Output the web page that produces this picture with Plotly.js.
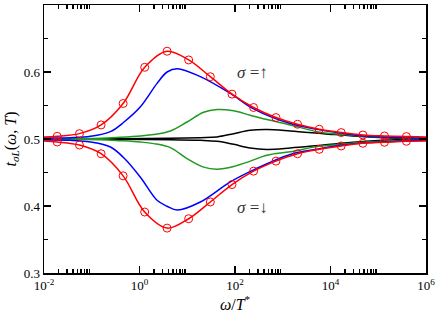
<!DOCTYPE html>
<html>
<head>
<meta charset="utf-8">
<script src="https://cdn.plot.ly/plotly-3.0.1.min.js"></script>
<style>html,body{margin:0;padding:0;background:#fff;}#chart{width:436px;height:315px;}</style>
</head>
<body>
<div id="chart"></div>
<script>
const redX = [0.0189, 0.0553, 0.157, 0.454, 1.285, 3.78, 10.7, 30.4, 86.5, 245, 721, 2042, 5808, 16750, 47640, 134900, 389000];
const redUp = [0.504, 0.508, 0.521, 0.553, 0.607, 0.631, 0.618, 0.593, 0.567, 0.547, 0.532, 0.522, 0.5145, 0.5096, 0.506, 0.5045, 0.5036];
const redDown = [0.4955, 0.491, 0.478, 0.445, 0.391, 0.367, 0.381, 0.406, 0.432, 0.452, 0.467, 0.478, 0.4846, 0.4896, 0.4936, 0.4951, 0.4966];
const redEndsX = [0.01, 1e6];
const redUpEnds = [0.503, 0.503];
const redDownEnds = [0.497, 0.497];

const blueX = [0.01, 0.0358, 0.094, 0.246, 0.468, 1.045, 2.33, 3.78, 6.21, 18.8, 79.8, 245, 1435, 5610, 15960, 48980, 396300, 1e6];
const blueUp = [0.5015, 0.502, 0.504, 0.511, 0.525, 0.548, 0.583, 0.600, 0.605, 0.593, 0.568, 0.545, 0.523, 0.514, 0.509, 0.5045, 0.502, 0.5015];
const blueDown = [0.4985, 0.498, 0.4955, 0.488, 0.472, 0.443, 0.4085, 0.3996, 0.394, 0.406, 0.436, 0.454, 0.477, 0.485, 0.4906, 0.494, 0.4975, 0.4985];

const greenX = [0.01, 0.152, 0.398, 1.045, 1.98, 4.43, 9.91, 22.0, 42.0, 93.5, 209, 467, 1435, 5610, 15960, 48980, 396300, 1e6];
const greenUp = [0.5005, 0.501, 0.5025, 0.5045, 0.5066, 0.512, 0.5254, 0.540, 0.544, 0.542, 0.5354, 0.529, 0.521, 0.5105, 0.507, 0.504, 0.5015, 0.501];
const greenDown = [0.4995, 0.499, 0.4975, 0.4955, 0.4931, 0.4871, 0.4707, 0.458, 0.455, 0.459, 0.467, 0.4757, 0.481, 0.489, 0.492, 0.495, 0.498, 0.4985];

const blackX = [0.01, 0.398, 4.43, 18.8, 42.0, 93.5, 209, 467, 1435, 7145, 35650, 177400, 1e6];
const blackUp = [0.5003, 0.5005, 0.501, 0.502, 0.503, 0.508, 0.513, 0.514, 0.512, 0.508, 0.504, 0.5015, 0.5005];
const blackDown = [0.4997, 0.4995, 0.499, 0.498, 0.4965, 0.492, 0.4865, 0.4845, 0.4865, 0.491, 0.4955, 0.4985, 0.4995];

const xTickVals = [0.01, 1, 100, 1e4, 1e6];
const xTickText = ['10<sup>-2</sup>', '10<sup>0</sup>', '10<sup>2</sup>', '10<sup>4</sup>', '10<sup>6</sup>'];
const xMinorVals = [0.02,0.03,0.04,0.05,0.06,0.07,0.08,0.09, 2,3,4,5,6,7,8,9, 200,300,400,500,600,700,800,900, 2e4,3e4,4e4,5e4,6e4,7e4,8e4,9e4];
const yTickVals = [0.3, 0.4, 0.5, 0.6, 0.7];
const yTickText = ['0.3', '0.4', '0.5', '0.6', '0.7'];
const yMinorVals = [0.35, 0.45, 0.55, 0.65];

const RED = '#ff0000', BLUE = '#0000ff', GREEN = '#1f9a1f', BLACK = '#000000';
const LW = 1.5;

function line(x, y, color) {
  return {x: x, y: y, type: 'scatter', mode: 'lines', line: {color: color, width: LW, shape: 'spline', smoothing: 1}, showlegend: false, hoverinfo: 'skip'};
}
const redLineX = [redEndsX[0]].concat(redX, [redEndsX[1]]);
const redLineUp = [redUpEnds[0]].concat(redUp, [redUpEnds[1]]);
const redLineDown = [redDownEnds[0]].concat(redDown, [redDownEnds[1]]);

const data = [
  line(blackX, blackUp, BLACK), line(blackX, blackDown, BLACK),
  line(greenX, greenUp, GREEN), line(greenX, greenDown, GREEN),
  line(blueX, blueUp, BLUE), line(blueX, blueDown, BLUE),
  line(redLineX, redLineUp, RED), line(redLineX, redLineDown, RED),
  {x: redX, y: redUp, type: 'scatter', mode: 'markers', marker: {symbol: 'circle-open', size: 8, color: RED, line: {width: 1, color: RED}}, showlegend: false},
  {x: redX, y: redDown, type: 'scatter', mode: 'markers', marker: {symbol: 'circle-open', size: 8, color: RED, line: {width: 1, color: RED}}, showlegend: false}
];

const FONT = 'Liberation Serif, Times New Roman, serif';
const layout = {
  width: 436, height: 315,
  margin: {l: 44, r: 10, t: 5, b: 42},
  paper_bgcolor: '#fff', plot_bgcolor: '#fff',
  font: {family: FONT, size: 12, color: '#000'},
  showlegend: false,
  xaxis: {
    type: 'log', range: [-2, 6], autorange: false,
    tickmode: 'array', tickvals: xTickVals, ticktext: xTickText,
    ticks: 'inside', ticklen: 7, tickwidth: 1.5, tickcolor: '#000',
    minor: {tickmode: 'array', tickvals: xMinorVals, ticks: 'inside', ticklen: 4, tickwidth: 1.5, tickcolor: '#000', showgrid: false},
    showline: true, linewidth: 1.5, linecolor: '#000', mirror: 'ticks',
    showgrid: false, zeroline: false,
    tickfont: {family: FONT, size: 13},
    title: {text: '<i>ω</i>/<i>T</i><sup>*</sup>', font: {family: FONT, size: 16}, standoff: 5}
  },
  yaxis: {
    range: [0.3, 0.7], autorange: false,
    tickmode: 'array', tickvals: yTickVals, ticktext: yTickText,
    ticks: 'inside', ticklen: 7, tickwidth: 1.5, tickcolor: '#000',
    minor: {tickmode: 'array', tickvals: yMinorVals, ticks: 'inside', ticklen: 4, tickwidth: 1.5, tickcolor: '#000', showgrid: false},
    showline: true, linewidth: 1.5, linecolor: '#000', mirror: 'ticks',
    showgrid: false, zeroline: false,
    tickfont: {family: FONT, size: 13},
    title: {text: '<i>t</i><sub><i>σL</i></sub>(<i>ω</i>, <i>T</i>)', font: {family: FONT, size: 16}, standoff: 3}
  },
  annotations: [
    {xref: 'paper', yref: 'paper', x: 0.545, y: 0.79, text: '<i>σ</i> =↑', showarrow: false, font: {family: FONT, size: 17, color: '#333'}},
    {xref: 'paper', yref: 'paper', x: 0.545, y: 0.20, text: '<i>σ</i> =↓', showarrow: false, font: {family: FONT, size: 17, color: '#333'}}
  ]
};
Plotly.newPlot('chart', data, layout, {staticPlot: true, displayModeBar: false});
</script>
</body>
</html>
